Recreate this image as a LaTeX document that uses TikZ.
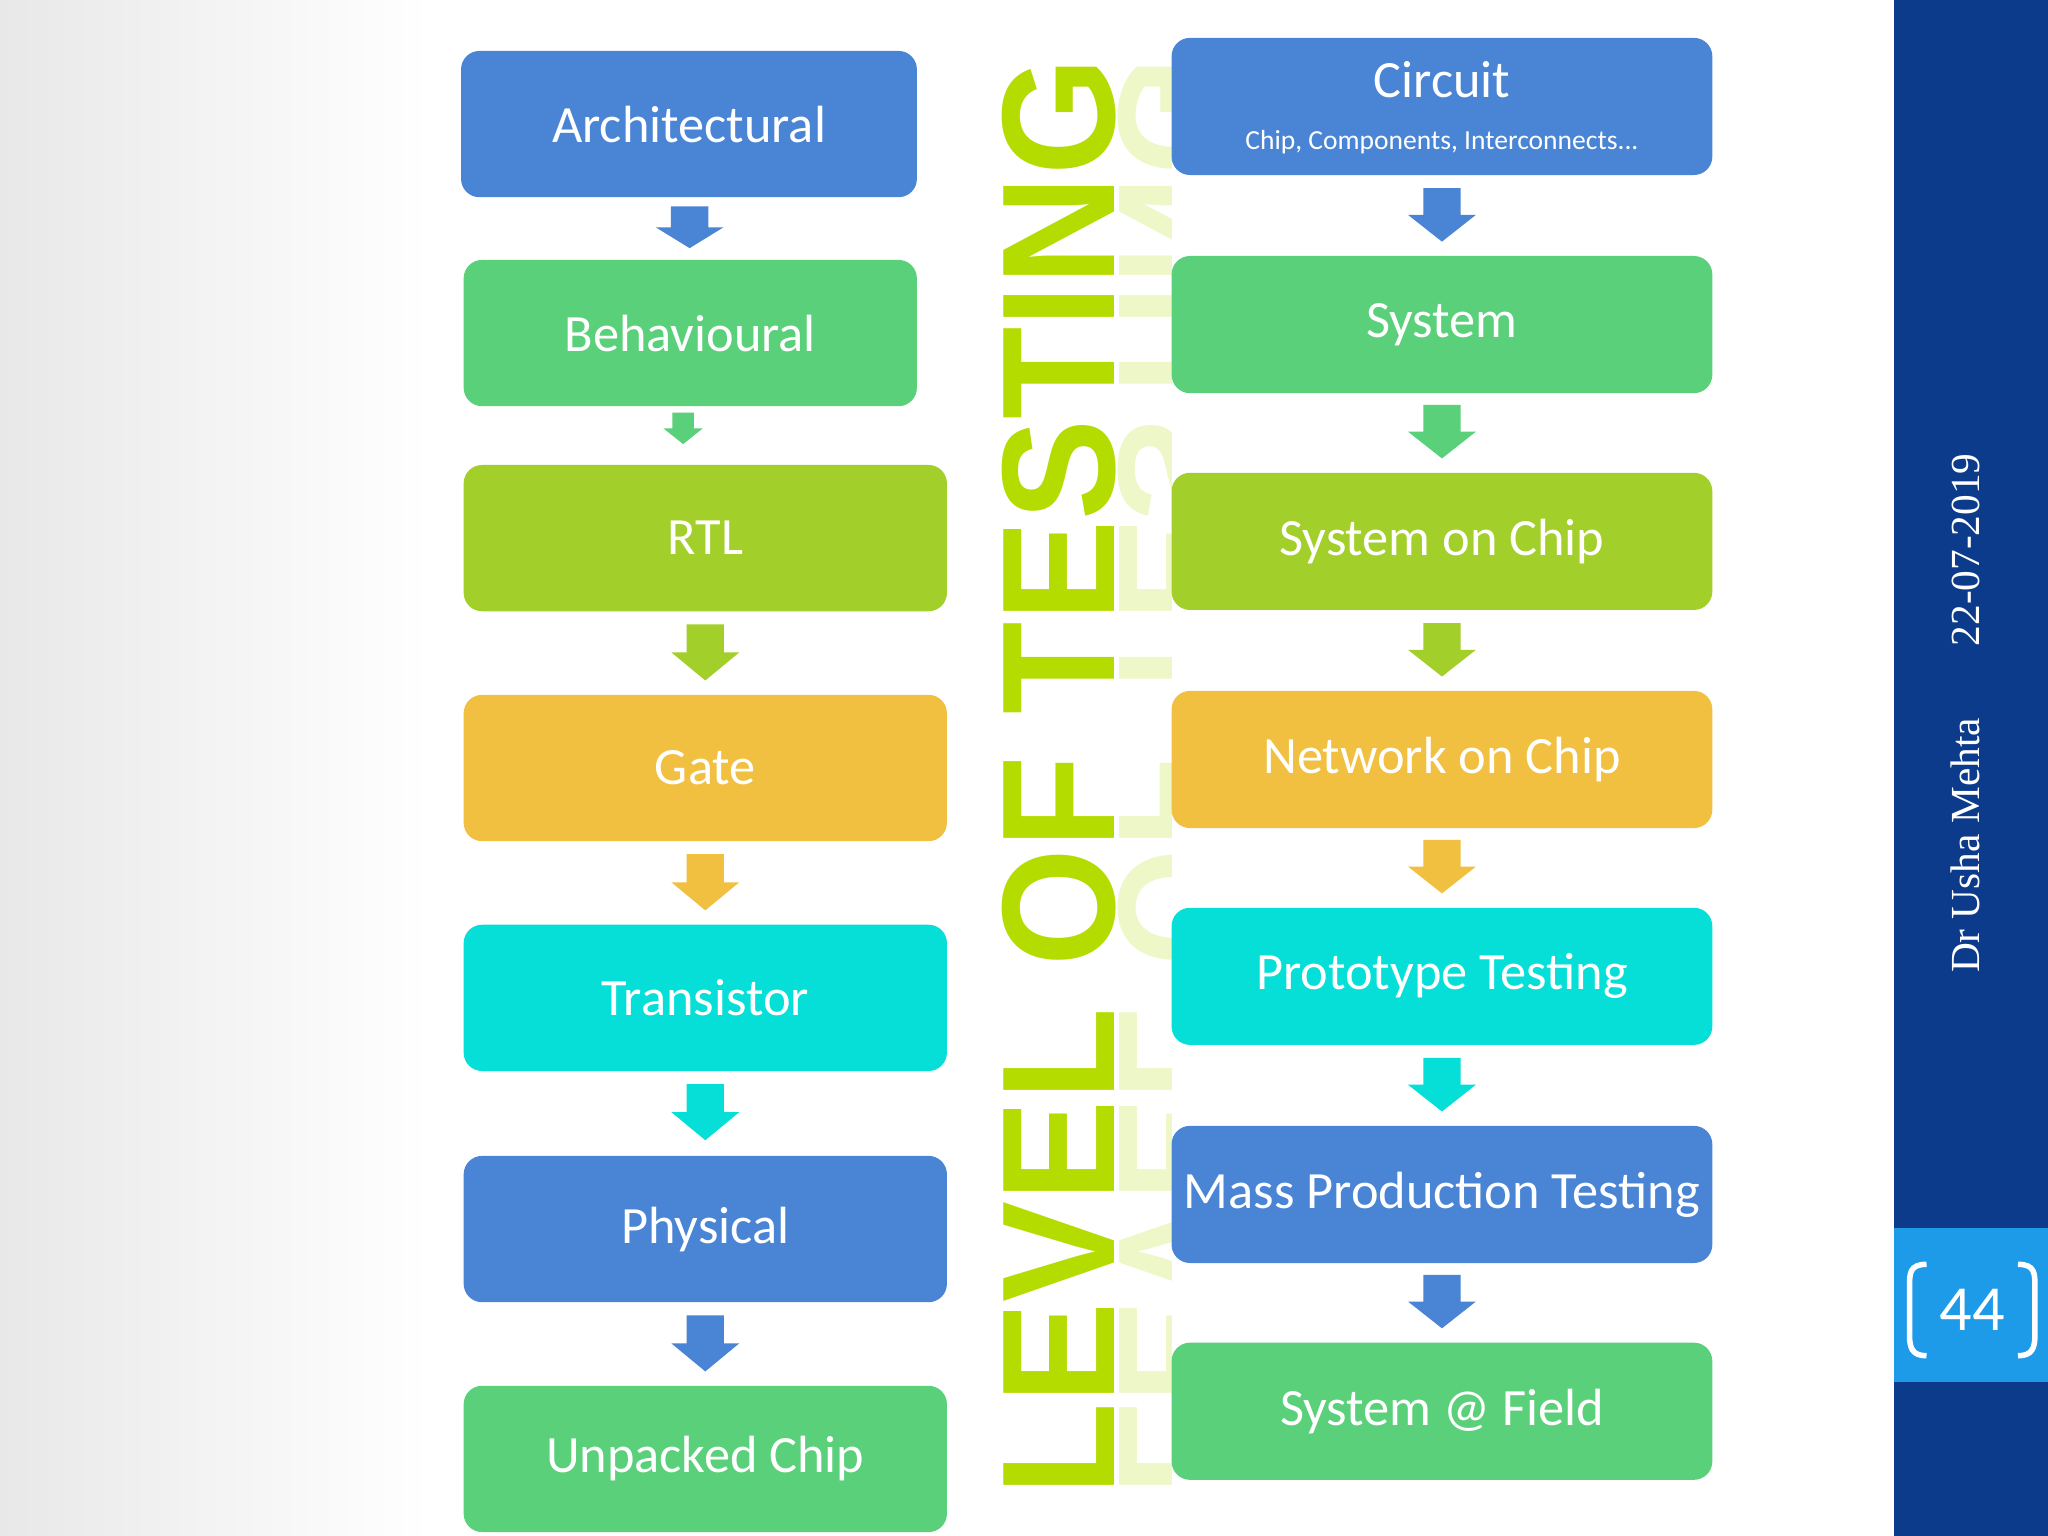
\documentclass[tikz,border=0pt]{standalone}
\usepackage{fontspec}
\setmainfont{Carlito}
\newfontfamily\serifx{Liberation Serif}
\newfontfamily\boldsans{Liberation Sans}
\usepackage{graphicx}
\definecolor{cblue}{HTML}{4A84D4}
\definecolor{cgreen}{HTML}{5BD07A}
\definecolor{clime}{HTML}{A3CF2A}
\definecolor{corange}{HTML}{F2C040}
\definecolor{ccyan}{HTML}{06DFD8}
\definecolor{cnavy}{HTML}{0D3B8C}
\definecolor{csky}{HTML}{1E9BE8}
\definecolor{ctitle}{HTML}{B4DC00}
\newcommand\barrow[5]{\fill[#4] ({#1-#5*0.55},#2) -- ({#1+#5*0.55},#2) -- ({#1+#5*0.55},{#2+0.5*(#3-#2)}) -- ({#1+#5},{#2+0.5*(#3-#2)}) -- (#1,#3) -- ({#1-#5},{#2+0.5*(#3-#2)}) -- ({#1-#5*0.55},{#2+0.5*(#3-#2)}) -- cycle;}
\begin{document}
\begin{tikzpicture}[x=0.01cm,y=-0.01cm,
  lbox/.style={rounded corners=4pt,inner sep=0,text=white,font=\fontsize{11.4}{13}\selectfont},
]
\useasboundingbox (0,0) rectangle (1568,1176);
\fill[white] (0,0) rectangle (1568,1176);
\shade[left color=black!9,right color=white] (0,0) rectangle (330,1176);
% left column
\foreach \n/\t/\xa/\xb/\ya/\yb/\c in {a/Architectural/353/702/39/151/cblue, b/Behavioural/355/702/199/311/cgreen, c/RTL/355/725/356/468/clime, d/Gate/355/725/532/644/corange, e/Transistor/355/725/708/820/ccyan, f/Physical/355/725/885/997/cblue, g/Unpacked Chip/355/725/1061/1173/cgreen}{
  \fill[\c,rounded corners=4pt] (\xa,\ya) rectangle (\xb,\yb);
  \node[lbox] (\n) at ({(\xa+\xb)/2},{(\ya+\yb)/2}) {\t};
}
\barrow{528}{158}{190}{cblue}{26}
\barrow{523}{316}{340}{cgreen}{15}
\barrow{540}{478}{521}{clime}{26}
\barrow{540}{654}{697}{corange}{26}
\barrow{540}{830}{873}{ccyan}{26}
\barrow{540}{1007}{1050}{cblue}{26}
% right column
\foreach \n/\t/\ya/\yb/\c in {r2/System/196/301/cgreen, r3/System on Chip/362/467/clime, r4/Network on Chip/529/634/corange, r5/Prototype Testing/695/800/ccyan, r6/Mass Production Testing/862/967/cblue, r7/System @ Field/1028/1133/cgreen}{
  \fill[\c,rounded corners=4pt] (897,\ya) rectangle (1311,\yb);
  \node[lbox] (\n) at (1104,{(\ya+\yb)/2}) {\t};
}
\fill[cblue,rounded corners=4pt] (897,29) rectangle (1311,134);
\node[lbox] (r1) at (1104,61) {Circuit};
\node[lbox,font=\fontsize{6}{7}\selectfont] (r1s) at (1104,109) {Chip, Components, Interconnects...};
\barrow{1104}{144}{185}{cblue}{26}
\barrow{1104}{310}{351}{cgreen}{26}
\barrow{1104}{477}{518}{clime}{26}
\barrow{1104}{643}{684}{corange}{26}
\barrow{1104}{810}{851}{ccyan}{26}
\barrow{1104}{976}{1017}{cblue}{26}
% vertical title
\node[rotate=90,anchor=south,inner sep=0,text=ctitle] (title) at (855,595) {\resizebox{11cm}{0.86cm}{\boldsans\bfseries LEVEL OF TESTING}};
\begin{scope}
\clip (855,0) rectangle (897,1176);
\node[rotate=90,anchor=north,inner sep=0,text=ctitle,opacity=0.22] (refl) at (855,595) {\scalebox{1}[-1]{\resizebox{11cm}{0.86cm}{\boldsans\bfseries LEVEL OF TESTING}}};
\end{scope}
% sidebar
\fill[cnavy] (1450,0) rectangle (1568,1176);
\fill[csky] (1450,940) rectangle (1568,1058);
\node[rotate=90,text=white,font=\serifx\fontsize{9}{11}\selectfont] (auth) at (1505,546) {Dr Usha Mehta\hspace{0.55cm}22-07-2019};
\node[text=white,font=\fontsize{14}{16}\selectfont] (pg) at (1510,1003) {44};
\draw[white,line width=1.2pt] (1475,968) .. controls (1462,968) and (1462,975) .. (1462,985) -- (1462,1022) .. controls (1462,1032) and (1464,1038) .. (1475,1038);
\draw[white,line width=1.2pt] (1545,968) .. controls (1558,968) and (1558,975) .. (1558,985) -- (1558,1022) .. controls (1558,1032) and (1556,1038) .. (1545,1038);
\end{tikzpicture}
\end{document}
